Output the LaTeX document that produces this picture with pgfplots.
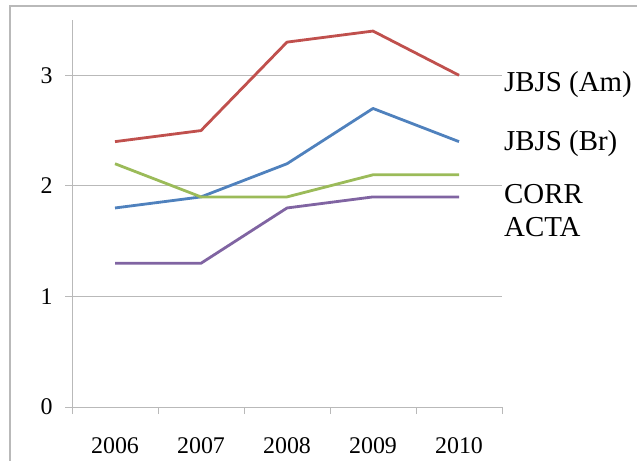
\documentclass[border=0pt]{standalone}
\usepackage{fontspec}
\setmainfont{Liberation Serif}
\usepackage{pgfplots}
\pgfplotsset{compat=1.18}
\definecolor{amred}{RGB}{192,80,77}
\definecolor{brblue}{RGB}{79,129,189}
\definecolor{corrgreen}{RGB}{155,187,89}
\definecolor{actapurple}{RGB}{128,100,162}
\definecolor{framegray}{RGB}{185,185,185}
\begin{document}
\begin{tikzpicture}
\clip (0,0) rectangle (637bp,461bp);
\draw[framegray, line width=1.5bp] (10bp,-5bp) -- (10bp,455bp) -- (645bp,455bp);
\begin{axis}[
    at={(72bp,54bp)}, anchor=south west,
    scale only axis, width=430bp, height=387bp,
    xmin=-0.5, xmax=4.5, ymin=0, ymax=3.5,
    axis x line=bottom, axis y line=left,
    axis line style={draw=framegray, line width=1bp, -},
    ytick={0,1,2,3},
    ymajorgrids,
    grid style={framegray, line width=1bp},
    xtick={-0.5,0.5,...,4.5}, xticklabels={},
    extra x ticks={0,1,2,3,4},
    extra x tick labels={2006,2007,2008,2009,2010},
    extra x tick style={major tick length=0pt, xticklabel style={yshift=-27bp}},
    tick align=outside,
    major tick length=7bp,
    tick style={draw=framegray, line width=1bp},
    ticklabel style={font=\fontsize{24}{28}\selectfont},
    yticklabel style={xshift=-9bp},
    /pgf/number format/assume math mode=true,
    clip=false,
    every axis plot/.append style={line width=2.8bp, line join=round, mark=none},
  ]
  \addplot[amred] coordinates {(0,2.4) (1,2.5) (2,3.3) (3,3.4) (4,3.0)};
  \addplot[brblue] coordinates {(0,1.8) (1,1.9) (2,2.2) (3,2.7) (4,2.4)};
  \addplot[corrgreen] coordinates {(0,2.2) (1,1.9) (2,1.9) (3,2.1) (4,2.1)};
  \addplot[actapurple] coordinates {(0,1.3) (1,1.3) (2,1.8) (3,1.9) (4,1.9)};
  \begin{scope}[every node/.style={anchor=west, inner sep=0pt, xshift=2bp, font=\fontsize{29}{32}\selectfont}]
  \node at (axis cs:4.5,2.92) {JBJS (Am)};
  \node at (axis cs:4.5,2.38) {JBJS (Br)};
  \node at (axis cs:4.5,1.93) {CORR};
  \node at (axis cs:4.5,1.63) {ACTA};
  \end{scope}
\end{axis}
\end{tikzpicture}
\end{document}
